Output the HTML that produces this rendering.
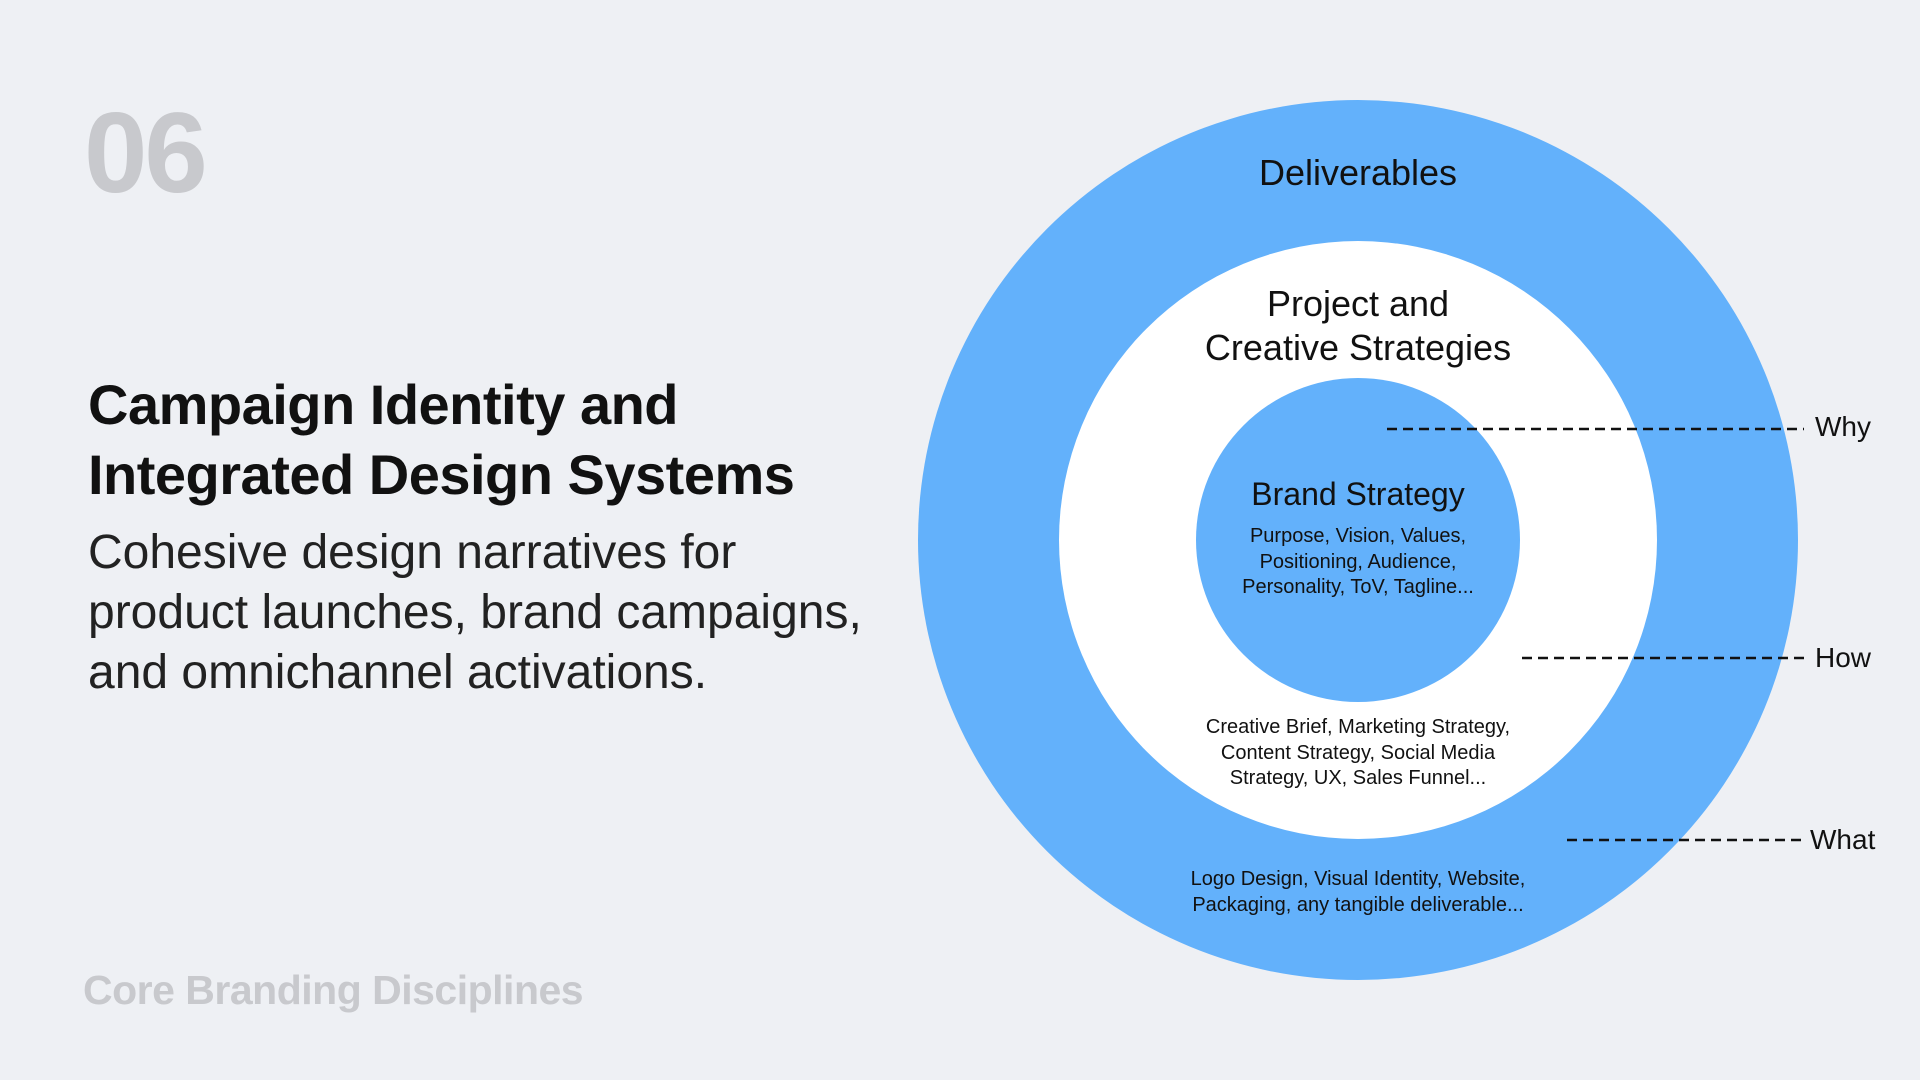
<!DOCTYPE html>
<html><head><meta charset="utf-8"><style>
body{margin:0;width:1920px;height:1080px;background:#eef0f4;position:relative;overflow:hidden;font-family:"Liberation Sans",Arial,sans-serif;color:#111}
.a{position:absolute;white-space:nowrap}
.c{position:absolute;text-align:center;width:600px;left:1058px;white-space:nowrap}
</style></head><body>
<svg class="a" style="left:0;top:0" width="1920" height="1080">
<circle cx="1358" cy="540" r="440" fill="#63b1fb"/>
<circle cx="1358" cy="540" r="299" fill="#ffffff"/>
<circle cx="1358" cy="540" r="162" fill="#63b1fb"/>
<g stroke="#111" stroke-width="2.5" stroke-dasharray="10 6">
<line x1="1387" y1="429" x2="1804" y2="429"/>
<line x1="1522" y1="658" x2="1804" y2="658"/>
<line x1="1567" y1="840" x2="1804" y2="840"/>
</g>
<g font-family="Liberation Sans, Arial, sans-serif" font-size="28" fill="#111">
<text x="1815" y="436">Why</text>
<text x="1815" y="667">How</text>
<text x="1810" y="849">What</text>
</g>
</svg>
<div class="a" style="left:84px;top:88px;font-size:114px;font-weight:bold;color:#c8c9cd;letter-spacing:-3px">06</div>
<div class="a" style="left:88px;top:370px;font-size:56px;font-weight:bold;line-height:70px;letter-spacing:-0.5px">Campaign Identity and<br>Integrated Design Systems</div>
<div class="a" style="left:88px;top:523px;font-size:48px;line-height:60px;color:#222">Cohesive design narratives for<br>product launches, brand campaigns,<br>and omnichannel activations.</div>
<div class="a" style="left:83px;top:967px;font-size:41px;font-weight:bold;color:#c8c9cd;letter-spacing:-0.5px">Core Branding Disciplines</div>
<div class="c" style="top:152px;font-size:36px">Deliverables</div>
<div class="c" style="top:282px;font-size:36px;line-height:44px">Project and<br>Creative Strategies</div>
<div class="c" style="top:476px;font-size:32px">Brand Strategy</div>
<div class="c" style="top:524px;font-size:20px;line-height:25.5px">Purpose, Vision, Values,<br>Positioning, Audience,<br>Personality, ToV, Tagline...</div>
<div class="c" style="top:715px;font-size:20px;line-height:25.5px">Creative Brief, Marketing Strategy,<br>Content Strategy, Social Media<br>Strategy, UX, Sales Funnel...</div>
<div class="c" style="top:867px;font-size:20px;line-height:25.5px">Logo Design, Visual Identity, Website,<br>Packaging, any tangible deliverable...</div>
</body></html>
